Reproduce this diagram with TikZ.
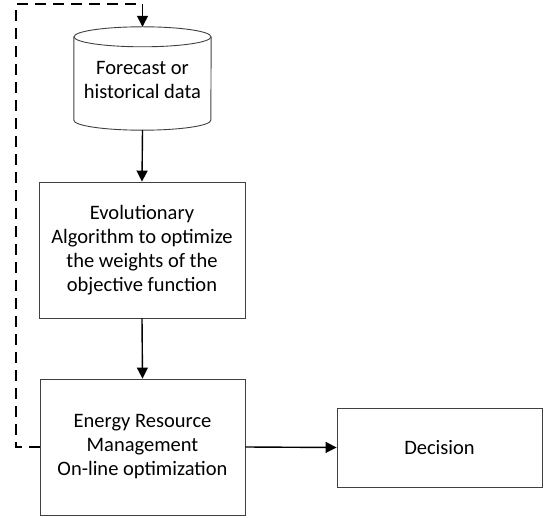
\documentclass[tikz,border=0pt]{standalone}
\usepackage{fontspec}
\setmainfont{Carlito}
\usetikzlibrary{arrows.meta}
\begin{document}
\begin{tikzpicture}[x=1pt,y=-1pt,
  txt/.style={font=\fontsize{20.5}{24}\selectfont, align=center, text=black},
  boxn/.style={draw=black!75, line width=0.9pt, inner sep=0pt, txt},
  conn/.style={line width=1.4pt, -{Triangle[length=11pt,width=11pt]}},
  fb/.style={line width=1.4pt, dash pattern=on 11pt off 7pt}]
\useasboundingbox (0,0) rectangle (546,518);
% cylinder node (text holder)
\node[txt, minimum width=137pt, minimum height=103pt, inner sep=0pt] (data) at (142.5,78.5) {};
\draw[draw=black!75, line width=0.9pt]
  ([yshift=-10pt]data.north west) -- ([yshift=10pt]data.south west)
  arc[start angle=180, end angle=360, x radius=68.5pt, y radius=10pt]
  -- ([yshift=-10pt]data.north east);
\draw[draw=black!75, line width=0.9pt] ([yshift=-10pt]data.north) ellipse[x radius=68.5pt, y radius=10pt];
\node[txt] (datatxt) at (142.5,80) {Forecast or\\historical data};
\node[boxn, minimum width=206pt, minimum height=136pt] (evo) at (142,250)
  {Evolutionary\\Algorithm to optimize\\the weights of the\\objective function};
\node[boxn, minimum width=205pt, minimum height=136pt] (erm) at (142.5,447)
  {Energy Resource\\Management\\On-line optimization};
\node[boxn, minimum width=205pt, minimum height=79pt] (dec) at (439.5,447.5) {Decision};
\draw[conn] (data.south) -- (evo.north);
\draw[conn] (evo.south) -- (erm.north);
\draw[conn] (erm.east) -- (dec.west);
\coordinate (c1) at (16,447);
\coordinate (c2) at (16,4);
\coordinate (c3) at (142.5,4);
\draw[fb] (erm.west) -- (c1) -- (c2) -- (c3);
\draw[conn] (c3) -- (data.north);
\end{tikzpicture}
\end{document}
